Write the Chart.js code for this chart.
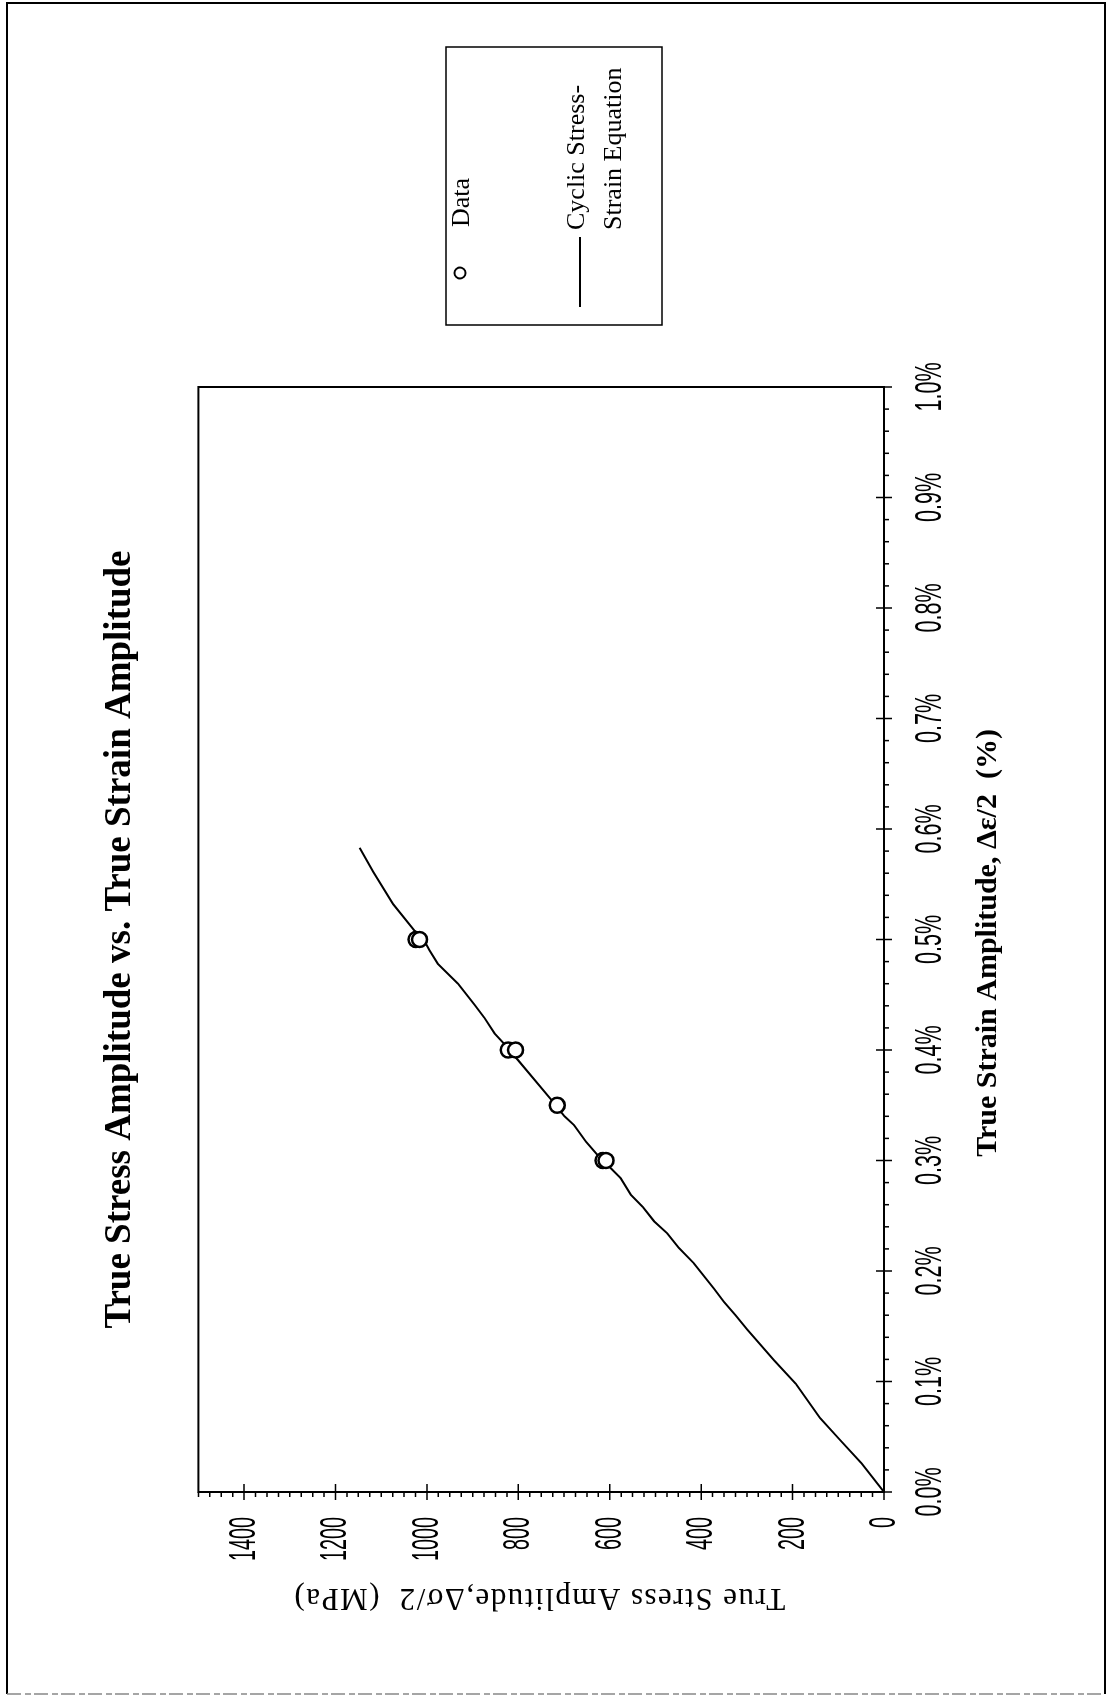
<!DOCTYPE html>
<html>
<head>
<meta charset="utf-8">
<title>True Stress Amplitude vs. True Strain Amplitude</title>
<script src="https://cdn.jsdelivr.net/npm/chart.js@4.4.1/dist/chart.umd.min.js"></script>
<style>
  html, body { margin: 0; padding: 0; background: #fff; }
  body { width: 1110px; height: 1705px; overflow: hidden; position: relative; }
  /* landscape sheet turned a quarter turn to fit the portrait page */
  #sheet {
    position: absolute; left: 0; top: 0;
    width: 1705px; height: 1110px;
    transform-origin: 0 0;
    transform: translateY(1705px) rotate(-90deg);
  }
</style>
</head>
<body>
<div id="sheet"><canvas id="ssChart" width="1705" height="1110"></canvas></div>
<script>
// measured amplitudes (strain in %, stress in MPa)
const dataStrain = [0.30, 0.30, 0.35, 0.40, 0.40, 0.50, 0.50];
const dataStress = [615, 608, 715, 822, 806, 1024, 1016];

// cyclic stress-strain curve
const curveStrain = [0, 0.026, 0.047, 0.067, 0.098, 0.119, 0.147, 0.160, 0.172, 0.184, 0.207, 0.221,
  0.234, 0.245, 0.258, 0.269, 0.284, 0.296, 0.305, 0.317, 0.332, 0.340, 0.355, 0.391, 0.405,
  0.415, 0.429, 0.441, 0.460, 0.478, 0.490, 0.502, 0.508, 0.532, 0.561, 0.583];
const curveStress = [0, 49, 96, 140, 193, 240, 299, 325, 350, 372, 416, 449,
  474, 503, 528, 554, 576, 605, 627, 652, 678, 699, 728, 801, 830,
  852, 874, 896, 932, 976, 994, 1010, 1027, 1074, 1117, 1147];

const strainTicks = [0, 0.1, 0.2, 0.3, 0.4, 0.5, 0.6, 0.7, 0.8, 0.9, 1.0];
const strainTickLabels = ['0.0%', '0.1%', '0.2%', '0.3%', '0.4%', '0.5%', '0.6%', '0.7%', '0.8%', '0.9%', '1.0%'];
const stressTicks = [0, 200, 400, 600, 800, 1000, 1200, 1400];
const stressTickLabels = ['0', '200', '400', '600', '800', '1000', '1200', '1400'];

const serif = '"Liberation Serif", "Times New Roman", serif';
const sans = '"Liberation Sans", Arial, sans-serif';

// frame, ticks, labels, legend box and page border
const sheetDecor = {
  id: 'sheetDecor',
  afterDraw(chart) {
    const { ctx, chartArea: a, scales: { x, y } } = chart;
    ctx.save();
    ctx.strokeStyle = '#000';
    ctx.fillStyle = '#000';

    // page border
    ctx.lineWidth = 2;
    ctx.beginPath();
    ctx.moveTo(11, 7); ctx.lineTo(1702, 7); ctx.lineTo(1702, 1105); ctx.lineTo(11, 1105);
    ctx.stroke();
    ctx.strokeStyle = '#888';
    ctx.lineWidth = 1.5;
    ctx.setLineDash([14, 4, 6, 3]);
    ctx.beginPath(); ctx.moveTo(11, 7); ctx.lineTo(11, 1105); ctx.stroke();
    ctx.setLineDash([]);
    ctx.strokeStyle = '#000';

    // plot frame
    ctx.lineWidth = 2;
    ctx.strokeRect(a.left, a.top, a.right - a.left, a.bottom - a.top);

    // strain axis ticks
    ctx.lineWidth = 1.5;
    ctx.beginPath();
    for (let v = 0; v <= 1.0001; v += 0.02) {
      const px = x.getPixelForValue(v);
      ctx.moveTo(px, a.bottom); ctx.lineTo(px, a.bottom + 5);
    }
    strainTicks.forEach(v => {
      const px = x.getPixelForValue(v);
      ctx.moveTo(px, a.bottom - 8); ctx.lineTo(px, a.bottom + 8);
    });
    // stress axis ticks
    for (let v = 0; v <= 1500; v += 25) {
      const py = y.getPixelForValue(v);
      ctx.moveTo(a.left, py); ctx.lineTo(a.left - 5, py);
    }
    stressTicks.forEach(v => {
      const py = y.getPixelForValue(v);
      ctx.moveTo(a.left - 8, py); ctx.lineTo(a.left + 8, py);
    });
    ctx.stroke();

    // tick labels, tall narrow sans
    ctx.font = '36px ' + sans;
    ctx.textBaseline = 'top';
    ctx.textAlign = 'center';
    strainTicks.forEach((v, i) => {
      ctx.save();
      ctx.translate(x.getPixelForValue(v), a.bottom + 29);
      ctx.scale(0.6, 1);
      ctx.fillText(strainTickLabels[i], 0, 0);
      ctx.restore();
    });
    ctx.textBaseline = 'middle';
    ctx.textAlign = 'right';
    stressTicks.forEach((v, i) => {
      ctx.save();
      ctx.translate(a.left - 25, y.getPixelForValue(v) + 1);
      ctx.scale(0.55, 1);
      ctx.fillText(stressTickLabels[i], 0, 0);
      ctx.restore();
    });

    // axis titles
    ctx.textAlign = 'center';
    ctx.textBaseline = 'alphabetic';
    ctx.font = 'bold 30px ' + serif;
    ctx.fillText('True Strain Amplitude, \u0394\u03b5/2  (%)', 762, 996);

    ctx.save();
    ctx.translate(116, 539);
    ctx.rotate(-Math.PI / 2);
    ctx.font = '31px ' + serif;
    ctx.letterSpacing = '1.5px';
    ctx.fillText('True Stress Amplitude,\u0394\u03c3/2  (MPa)', 0, 0);
    ctx.restore();

    // legend box
    ctx.lineWidth = 1.5;
    ctx.strokeRect(1380, 446, 278, 216);
    ctx.lineWidth = 2;
    ctx.beginPath();
    ctx.arc(1432, 460, 5.5, 0, Math.PI * 2);
    ctx.stroke();
    ctx.beginPath();
    ctx.moveTo(1398, 580); ctx.lineTo(1468, 580);
    ctx.stroke();
    ctx.textAlign = 'left';
    ctx.font = '26px ' + serif;
    ctx.fillText('Data', 1478, 469);
    ctx.fillText('Cyclic Stress-', 1475, 584);
    ctx.fillText('Strain Equation', 1475, 621);

    ctx.restore();
  }
};

new Chart(document.getElementById('ssChart'), {
  type: 'scatter',
  data: {
    datasets: [
      {
        label: 'Data',
        data: dataStrain.map((s, i) => ({ x: s, y: dataStress[i] })),
        showLine: false,
        pointStyle: 'circle',
        pointRadius: 7.5,
        pointBorderWidth: 2.5,
        pointBackgroundColor: '#fff',
        pointBorderColor: '#000',
        order: 0
      },
      {
        label: 'Cyclic Stress-Strain Equation',
        data: curveStrain.map((s, i) => ({ x: s, y: curveStress[i] })),
        showLine: true,
        borderColor: '#000',
        borderWidth: 2,
        pointRadius: 0,
        tension: 0,
        order: 1
      }
    ]
  },
  options: {
    responsive: false,
    animation: false,
    events: [],
    layout: { padding: { left: 213, right: 387, top: 0, bottom: 226 } },
    plugins: {
      legend: { display: false },
      tooltip: { enabled: false },
      title: {
        display: true,
        text: 'True Stress Amplitude vs. True Strain Amplitude',
        color: '#000',
        font: { family: serif, size: 37, weight: 'bold' },
        padding: { top: 98, bottom: 56 }
      }
    },
    scales: {
      x: { type: 'linear', display: false, min: 0, max: 1.0 },
      y: { type: 'linear', display: false, min: 0, max: 1500 }
    }
  },
  plugins: [sheetDecor]
});
</script>
</body>
</html>
